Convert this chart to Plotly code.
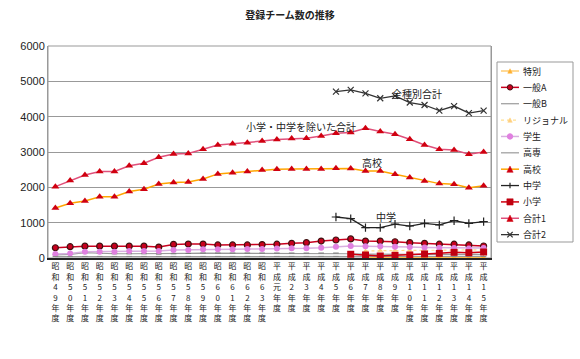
import plotly.graph_objects as go

years = ["昭和49年度","昭和50年度","昭和51年度","昭和52年度","昭和53年度","昭和54年度","昭和55年度",
         "昭和56年度","昭和57年度","昭和58年度","昭和59年度","昭和60年度","昭和61年度","昭和62年度",
         "昭和63年度","平成元年度","平成2年度","平成3年度","平成4年度","平成5年度","平成6年度",
         "平成7年度","平成8年度","平成9年度","平成10年度","平成11年度","平成12年度","平成13年度",
         "平成14年度","平成15年度"]
N = None
tokubetsu = [N]*21 + [15, 15, 15, 15, 15, 15, 15, 15, 15]
ippanA = [290, 320, 335, 335, 335, 335, 335, 310, 385, 395, 395, 370, 370, 370, 380,
          390, 415, 435, 480, 510, 540, 480, 480, 460, 435, 415, 390, 390, 370, 340]
ippanB = [90, 100, 150, 130, 120, 120, 120, 110, 120, 130, 140, 140, 140, 140, 140,
          140, 140, 140, 140, 140, 120, 110, 100, 100, 100, 100, 100, 100, 100, 100]
regional = [N]*21 + [200, 210, 210, 215, 220, 220, 225, 230, 233]
gakusei = [113, 130, 180, 180, 180, 200, 200, 200, 226, 226, 245, 245, 245, 255, 255,
           270, 275, 275, 290, 320, 340, 330, 330, 320, 310, 300, 290, 280, 270, 280]
kosen = [40, 40, 45, 45, 45, 45, 45, 45, 45, 45, 45, 45, 45, 45, 45,
         45, 45, 45, 45, 45, 45, 45, 45, 45, 45, 45, 45, 45, 45, 45]
koko = [1415, 1550, 1615, 1735, 1735, 1880, 1945, 2095, 2140, 2150, 2235, 2380, 2415, 2445, 2490,
        2515, 2520, 2520, 2520, 2540, 2530, 2460, 2460, 2370, 2275, 2180, 2105, 2085, 1990, 2045]
chugaku = [N]*19 + [1160, 1115, 860, 860, 960, 905, 980, 935, 1055, 980, 1030]
shogaku = [N]*20 + [105, 85, 57, 75, 85, 113, 132, 160, 150, 170]
total1 = [2020, 2190, 2350, 2450, 2450, 2610, 2680, 2850, 2940, 2960, 3080, 3200, 3230, 3260, 3310,
          3355, 3380, 3390, 3450, 3530, 3550, 3670, 3580, 3500, 3360, 3200, 3080, 3060, 2935, 3000]
total2 = [N]*19 + [4710, 4760, 4660, 4520, 4590, 4400, 4330, 4170, 4300, 4100, 4170]

y_ticks = [0, 1000, 2000, 3000, 4000, 5000, 6000]
tick_text = ["<br>".join(list(s)) for s in years]

series = [
    ("特別", tokubetsu, dict(color="#FFC04D", width=1.2), dict(symbol="triangle-up", size=5, color="#FFB030")),
    ("一般A", ippanA, dict(color="#C8001E", width=1.5), dict(symbol="circle", size=6, color="#C8001E", line=dict(color="#401010", width=1.2))),
    ("一般B", ippanB, dict(color="#9A9A9A", width=1.2), dict(symbol="line-ew", size=4, color="#777", line=dict(color="#777", width=1))),
    ("リジョナル", regional, dict(color="#FFE090", width=1.2, dash="dot"), dict(symbol="triangle-up", size=5, color="#FFD080")),
    ("学生", gakusei, dict(color="#D8B0E0", width=1.5), dict(symbol="circle", size=6, color="#E080E0")),
    ("高専", kosen, dict(color="#9A9A9A", width=1.2), dict(symbol="line-ew", size=4, color="#888", line=dict(color="#888", width=1))),
    ("高校", koko, dict(color="#FFA500", width=1.5), dict(symbol="triangle-up", size=7, color="#D00010")),
    ("中学", chugaku, dict(color="#222222", width=1.3), dict(symbol="cross-thin", size=6, color="#222", line=dict(color="#222", width=1.2))),
    ("小学", shogaku, dict(color="#D00010", width=1.5), dict(symbol="square", size=7, color="#C00010")),
    ("合計1", total1, dict(color="#E0507A", width=1.5), dict(symbol="triangle-up", size=7, color="#D00010")),
    ("合計2", total2, dict(color="#333333", width=1.3), dict(symbol="x-thin", size=6, color="#333", line=dict(color="#333", width=1.2))),
]

# plot area in pixels
L, R, T, B = 48, 491, 46, 258
W, H = 580, 359
pw, ph = R - L, B - T
def px(x):
    return (x - L) / pw
def py(y):
    return (B - y) / ph

font_jp = "Noto Sans CJK JP"
fig = go.Figure()
for name, vals, ln, mk in series:
    fig.add_trace(go.Scatter(x=years, y=vals, name=name, mode="lines+markers",
                             line=ln, marker=mk, connectgaps=False, showlegend=False))

def marker_shapes(mk, cx, cy):
    s = mk["size"] * 0.9
    h = s / 2
    col = mk["color"]
    out = []
    sym = mk["symbol"]
    if sym == "triangle-up":
        path = "M {} {} L {} {} L {} {} Z".format(px(cx - h), py(cy + h), px(cx + h), py(cy + h), px(cx), py(cy - h))
        out.append(dict(type="path", xref="paper", yref="paper", path=path, fillcolor=col, line=dict(color=col, width=0.5)))
    elif sym == "circle":
        lc = mk.get("line", {}).get("color", col)
        out.append(dict(type="circle", xref="paper", yref="paper", x0=px(cx - h), x1=px(cx + h), y0=py(cy + h), y1=py(cy - h),
                        fillcolor=col, line=dict(color=lc, width=1)))
    elif sym == "square":
        out.append(dict(type="rect", xref="paper", yref="paper", x0=px(cx - h), x1=px(cx + h), y0=py(cy + h), y1=py(cy - h),
                        fillcolor=col, line=dict(color=col, width=0.5)))
    elif sym == "cross-thin":
        out.append(dict(type="line", xref="paper", yref="paper", x0=px(cx), x1=px(cx), y0=py(cy - h), y1=py(cy + h),
                        line=dict(color=col, width=1.2)))
    elif sym == "x-thin":
        out.append(dict(type="line", xref="paper", yref="paper", x0=px(cx - h), x1=px(cx + h), y0=py(cy - h), y1=py(cy + h),
                        line=dict(color=col, width=1.2)))
        out.append(dict(type="line", xref="paper", yref="paper", x0=px(cx - h), x1=px(cx + h), y0=py(cy + h), y1=py(cy - h),
                        line=dict(color=col, width=1.2)))
    return out

# custom legend (box 497-573 x 62-242)
leg_x0, leg_x1, leg_y0, leg_y1 = 497, 573, 62, 242
step = (leg_y1 - leg_y0) / len(series)
shapes = [dict(type="rect", xref="paper", yref="paper", x0=0, x1=1, y0=0, y1=1,
               line=dict(color="#999", width=1), layer="below"),
          dict(type="rect", xref="paper", yref="paper", x0=px(leg_x0), x1=px(leg_x1),
               y0=py(leg_y1), y1=py(leg_y0), line=dict(color="#999", width=1), fillcolor="white", layer="below")]
annotations = []
for k, (name, vals, ln, mk) in enumerate(series):
    yc = leg_y0 + step * (k + 0.55)
    shapes.append(dict(type="line", xref="paper", yref="paper", x0=px(501), x1=px(519), y0=py(yc), y1=py(yc),
                       line=dict(color=ln["color"], width=ln["width"], dash=ln.get("dash", "solid"))))
    shapes.extend(marker_shapes(mk, 510, yc))
    annotations.append(dict(text=name, x=px(521), y=py(yc), xref="paper", yref="paper", xanchor="left",
                            yanchor="middle", showarrow=False, font=dict(size=9, family=font_jp, color="#222")))

labels = [("全種別合計", 417, 93), ("小学・中学を除いた合計", 301, 126), ("高校", 372, 162), ("中学", 386, 216)]
for t, x, y in labels:
    annotations.append(dict(text=t, x=px(x), y=py(y), xref="paper", yref="paper", showarrow=False,
                            xanchor="center", yanchor="middle",
                            font=dict(size=10, family=font_jp, color="#222")))

fig.update_layout(
    width=W, height=H,
    margin=dict(l=L, r=W - R, t=T, b=H - B, autoexpand=False),
    paper_bgcolor="white", plot_bgcolor="white",
    font=dict(family=font_jp, size=10, color="#222"),
    title=dict(text="<b>登録チーム数の推移</b>", x=0.5, xanchor="center", y=1 - 15.5 / H, yanchor="middle",
               font=dict(size=10, family=font_jp, color="#222")),
    showlegend=False,
    shapes=shapes,
    annotations=annotations,
    xaxis=dict(type="category", tickmode="array", tickvals=years, ticktext=tick_text,
               tickangle=0, tickfont=dict(size=8, family=font_jp, color="#222"),
               showline=True, linecolor="#222", linewidth=1.5, mirror=False, automargin=False,
               showgrid=False, ticks="", range=[-0.5, 29.5]),
    yaxis=dict(range=[0, 6000], tickvals=y_ticks, tickfont=dict(size=11, family="Liberation Sans", color="#222"),
               showgrid=True, gridcolor="#999", gridwidth=1.2, showline=True, linecolor="#999",
               mirror=True, zeroline=False, ticks="", automargin=False),
)

fig.write_html("out.html", config={"displayModeBar": False},
               post_script="document.body.style.margin='0';document.body.style.padding='0';")
